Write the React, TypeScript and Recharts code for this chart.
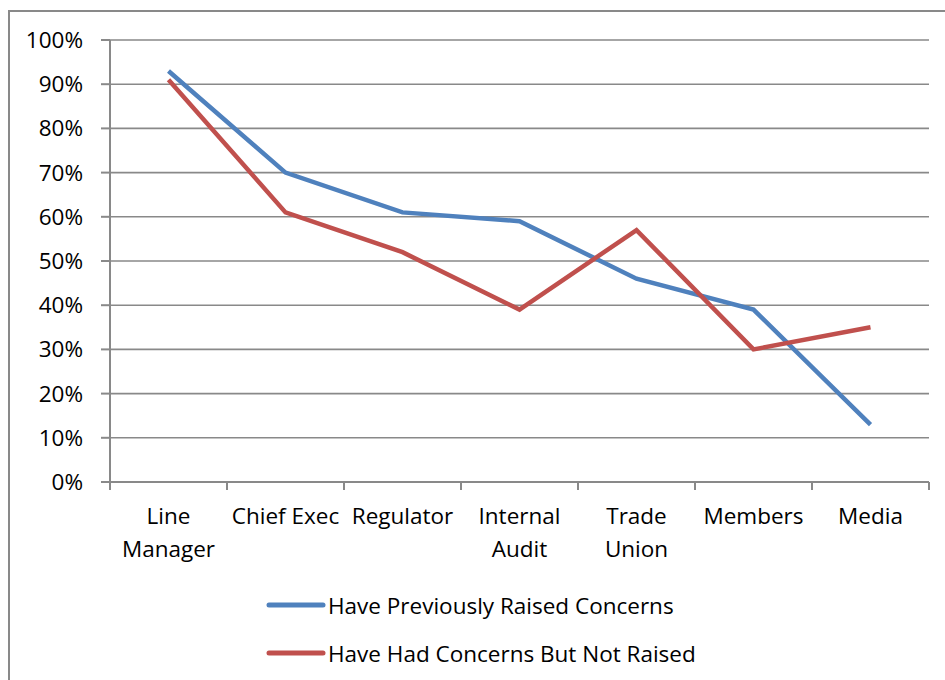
import React from 'react';
import { LineChart, Line, XAxis, YAxis, CartesianGrid } from 'recharts';

const categories = ['Line Manager', 'Chief Exec', 'Regulator', 'Internal Audit', 'Trade Union', 'Members', 'Media'];
const tickLabels = [['Line', 'Manager'], ['Chief Exec'], ['Regulator'], ['Internal', 'Audit'], ['Trade', 'Union'], ['Members'], ['Media']];
const raised = [93, 70, 61, 59, 46, 39, 13];
const notRaised = [91, 61, 52, 39, 57, 30, 35];
const yTicks = [0, 10, 20, 30, 40, 50, 60, 70, 80, 90, 100];

const seriesNames = ['Have Previously Raised Concerns', 'Have Had Concerns But Not Raised'];
const COLORS = ['#4F81BD', '#C0504D'];
const GRAY = '#898989';
const FONT = '"Open Sans", "Liberation Sans", sans-serif';
const FS = 22.5;

const data = categories.map((name, i) => ({
  name,
  pos: i + 0.5,
  raised: raised[i],
  notRaised: notRaised[i],
}));

// ticks at category boundaries (integers) carry the tick mark, half positions carry the label
const xTicks: number[] = [];
for (let i = 0; i <= categories.length * 2; i++) xTicks.push(i / 2);

const XTick = (props: any) => {
  const { x, y, payload } = props;
  const v = payload.value as number;
  if (Number.isInteger(v)) {
    return <line x1={x} x2={x} y1={y} y2={y + 8} stroke={GRAY} strokeWidth={2} />;
  }
  const lines = tickLabels[Math.floor(v)] || [];
  return (
    <text x={x} y={y} textAnchor="middle" fontFamily={FONT} fontSize={FS} fill="#000">
      {lines.map((l, i) => (
        <tspan key={i} x={x} dy={i === 0 ? 42 : 33}>{l}</tspan>
      ))}
    </text>
  );
};

export default function App() {
  return (
    <div style={{ position: 'absolute', left: 0, top: 0, width: 945, height: 680, overflow: 'hidden', background: '#fff' }}>
      <div style={{ position: 'absolute', left: 8, top: 10, width: 1000, height: 1000, border: `2px solid ${GRAY}`, boxSizing: 'border-box' }} />
      <div style={{ position: 'absolute', left: 0, top: 0 }}>
        <LineChart width={945} height={680} data={data} margin={{ top: 40, right: 16, left: 50, bottom: 98 }}>
          <CartesianGrid horizontal vertical={false} stroke={GRAY} strokeWidth={1.6} />
          <XAxis
            dataKey="pos"
            type="number"
            domain={[0, categories.length]}
            ticks={xTicks}
            interval={0}
            height={100}
            tickLine={false}
            tickSize={0}
            tickMargin={0}
            axisLine={{ stroke: GRAY, strokeWidth: 2 }}
            tick={<XTick />}
          />
          <YAxis
            domain={[0, 100]}
            ticks={yTicks}
            interval={0}
            width={60}
            tickSize={9}
            tickMargin={18}
            tickFormatter={(v: number) => `${v}%`}
            axisLine={{ stroke: GRAY, strokeWidth: 2 }}
            tickLine={{ stroke: GRAY, strokeWidth: 2 }}
            tick={{ fontFamily: FONT, fontSize: FS, fill: '#000' }}
          />
          <Line type="linear" dataKey="raised" name={seriesNames[0]} stroke={COLORS[0]} strokeWidth={4.5} dot={false} isAnimationActive={false} />
          <Line type="linear" dataKey="notRaised" name={seriesNames[1]} stroke={COLORS[1]} strokeWidth={4.5} dot={false} isAnimationActive={false} />
        </LineChart>
      </div>
      {seriesNames.map((n, i) => (
        <div key={n} style={{ position: 'absolute', left: 266, top: 605 + i * 48 - 16, height: 32, display: 'flex', alignItems: 'center' }}>
          <svg width={60} height={10} style={{ display: 'block' }}>
            <line x1={3} x2={57} y1={5} y2={5} stroke={COLORS[i]} strokeWidth={5} strokeLinecap="round" />
          </svg>
          <span style={{ fontFamily: FONT, fontSize: FS, color: '#000', marginLeft: 2, whiteSpace: 'nowrap' }}>{n}</span>
        </div>
      ))}
    </div>
  );
}
